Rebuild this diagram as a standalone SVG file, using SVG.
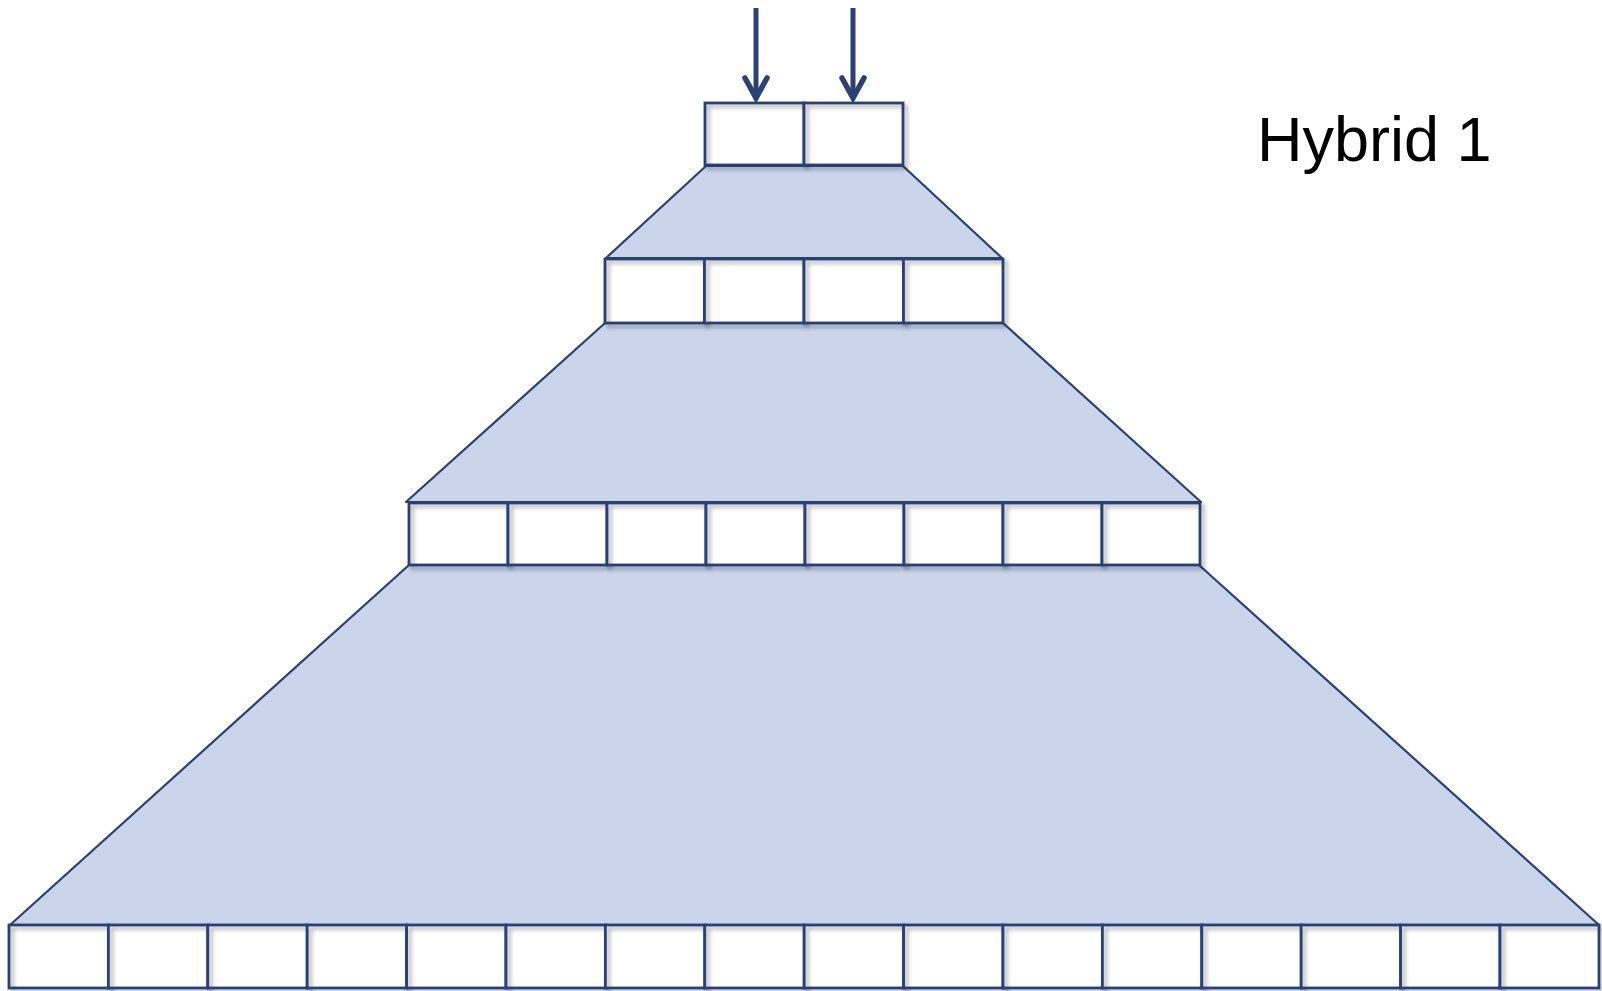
<svg xmlns="http://www.w3.org/2000/svg" width="1602" height="991" viewBox="0 0 1602 991">
<defs>
<style>
.trap{fill:#CAD5EC;stroke:#2C4172;stroke-width:2.2;stroke-linejoin:round}
.cf{fill:#FFFFFF;stroke:none}
.cs{fill:none;stroke:#2C4172;stroke-width:2.8;filter:url(#sh)}
.arr{stroke:#2C4172;stroke-width:5;fill:none;marker-end:url(#ah)}
.lbl{font-family:"Liberation Sans",Arial,sans-serif;font-size:63px;fill:#000000}
</style>
<filter id="sh" x="-10%" y="-10%" width="130%" height="140%">
<feDropShadow dx="3" dy="3" stdDeviation="2" flood-color="#000000" flood-opacity="0.35"/>
</filter>
<marker id="ah" markerUnits="userSpaceOnUse" viewBox="-4 -4 30 32" markerWidth="30" markerHeight="32" refX="21" refY="11" orient="auto">
<path d="M1,0 L21,11 L1,22" fill="none" stroke="#2C4172" stroke-width="5.5" stroke-linecap="round" stroke-linejoin="miter"/>
</marker>
</defs>
<rect width="1602" height="991" fill="#FFFFFF"/>
<g id="trapezoids">
<polygon id="trap1" class="trap" points="706,166 903,166 1002,258 606,258"/>
<polygon id="trap2" class="trap" points="605,323 1003,323 1201,502 406,502"/>
<polygon id="trap3" class="trap" points="409,565 1199,565 1599,925 10,925"/>
</g>
<g id="row1">
<g id="r1c1"><rect class="cf" x="705" y="103" width="99" height="62"/><rect class="cs" x="705" y="103" width="99" height="62"/></g>
<g id="r1c2"><rect class="cf" x="804" y="103" width="99" height="62"/><rect class="cs" x="804" y="103" width="99" height="62"/></g>
</g>
<g id="row2">
<g id="r2c1"><rect class="cf" x="605" y="259" width="99.5" height="64"/><rect class="cs" x="605" y="259" width="99.5" height="64"/></g>
<g id="r2c2"><rect class="cf" x="704.5" y="259" width="99.5" height="64"/><rect class="cs" x="704.5" y="259" width="99.5" height="64"/></g>
<g id="r2c3"><rect class="cf" x="804" y="259" width="99.5" height="64"/><rect class="cs" x="804" y="259" width="99.5" height="64"/></g>
<g id="r2c4"><rect class="cf" x="903.5" y="259" width="99.5" height="64"/><rect class="cs" x="903.5" y="259" width="99.5" height="64"/></g>
</g>
<g id="row3">
<g id="r3c1"><rect class="cf" x="409" y="503" width="99" height="62"/><rect class="cs" x="409" y="503" width="99" height="62"/></g>
<g id="r3c2"><rect class="cf" x="508" y="503" width="99" height="62"/><rect class="cs" x="508" y="503" width="99" height="62"/></g>
<g id="r3c3"><rect class="cf" x="607" y="503" width="99" height="62"/><rect class="cs" x="607" y="503" width="99" height="62"/></g>
<g id="r3c4"><rect class="cf" x="706" y="503" width="99" height="62"/><rect class="cs" x="706" y="503" width="99" height="62"/></g>
<g id="r3c5"><rect class="cf" x="805" y="503" width="99" height="62"/><rect class="cs" x="805" y="503" width="99" height="62"/></g>
<g id="r3c6"><rect class="cf" x="904" y="503" width="99" height="62"/><rect class="cs" x="904" y="503" width="99" height="62"/></g>
<g id="r3c7"><rect class="cf" x="1003" y="503" width="99" height="62"/><rect class="cs" x="1003" y="503" width="99" height="62"/></g>
<g id="r3c8"><rect class="cf" x="1102" y="503" width="98" height="62"/><rect class="cs" x="1102" y="503" width="98" height="62"/></g>
</g>
<g id="row4">
<g id="r4c1"><rect class="cf" x="9" y="925" width="99.4" height="63"/><rect class="cs" x="9" y="925" width="99.4" height="63"/></g>
<g id="r4c2"><rect class="cf" x="108.4" y="925" width="99.4" height="63"/><rect class="cs" x="108.4" y="925" width="99.4" height="63"/></g>
<g id="r4c3"><rect class="cf" x="207.8" y="925" width="99.4" height="63"/><rect class="cs" x="207.8" y="925" width="99.4" height="63"/></g>
<g id="r4c4"><rect class="cf" x="307.2" y="925" width="99.4" height="63"/><rect class="cs" x="307.2" y="925" width="99.4" height="63"/></g>
<g id="r4c5"><rect class="cf" x="406.6" y="925" width="99.4" height="63"/><rect class="cs" x="406.6" y="925" width="99.4" height="63"/></g>
<g id="r4c6"><rect class="cf" x="506" y="925" width="99.4" height="63"/><rect class="cs" x="506" y="925" width="99.4" height="63"/></g>
<g id="r4c7"><rect class="cf" x="605.4" y="925" width="99.4" height="63"/><rect class="cs" x="605.4" y="925" width="99.4" height="63"/></g>
<g id="r4c8"><rect class="cf" x="704.8" y="925" width="99.4" height="63"/><rect class="cs" x="704.8" y="925" width="99.4" height="63"/></g>
<g id="r4c9"><rect class="cf" x="804.2" y="925" width="99.4" height="63"/><rect class="cs" x="804.2" y="925" width="99.4" height="63"/></g>
<g id="r4c10"><rect class="cf" x="903.6" y="925" width="99.4" height="63"/><rect class="cs" x="903.6" y="925" width="99.4" height="63"/></g>
<g id="r4c11"><rect class="cf" x="1003" y="925" width="99.4" height="63"/><rect class="cs" x="1003" y="925" width="99.4" height="63"/></g>
<g id="r4c12"><rect class="cf" x="1102.4" y="925" width="99.4" height="63"/><rect class="cs" x="1102.4" y="925" width="99.4" height="63"/></g>
<g id="r4c13"><rect class="cf" x="1201.8" y="925" width="99.4" height="63"/><rect class="cs" x="1201.8" y="925" width="99.4" height="63"/></g>
<g id="r4c14"><rect class="cf" x="1301.2" y="925" width="99.4" height="63"/><rect class="cs" x="1301.2" y="925" width="99.4" height="63"/></g>
<g id="r4c15"><rect class="cf" x="1400.6" y="925" width="99.4" height="63"/><rect class="cs" x="1400.6" y="925" width="99.4" height="63"/></g>
<g id="r4c16"><rect class="cf" x="1500" y="925" width="99" height="63"/><rect class="cs" x="1500" y="925" width="99" height="63"/></g>
</g>
<g id="connectors">
<line class="arr" x1="756" y1="8" x2="756" y2="98"/>
<line class="arr" x1="853" y1="8" x2="853" y2="98"/>
</g>
<g id="label">
<text class="lbl" x="1257" y="161">Hybrid 1</text>
</g>
</svg>
